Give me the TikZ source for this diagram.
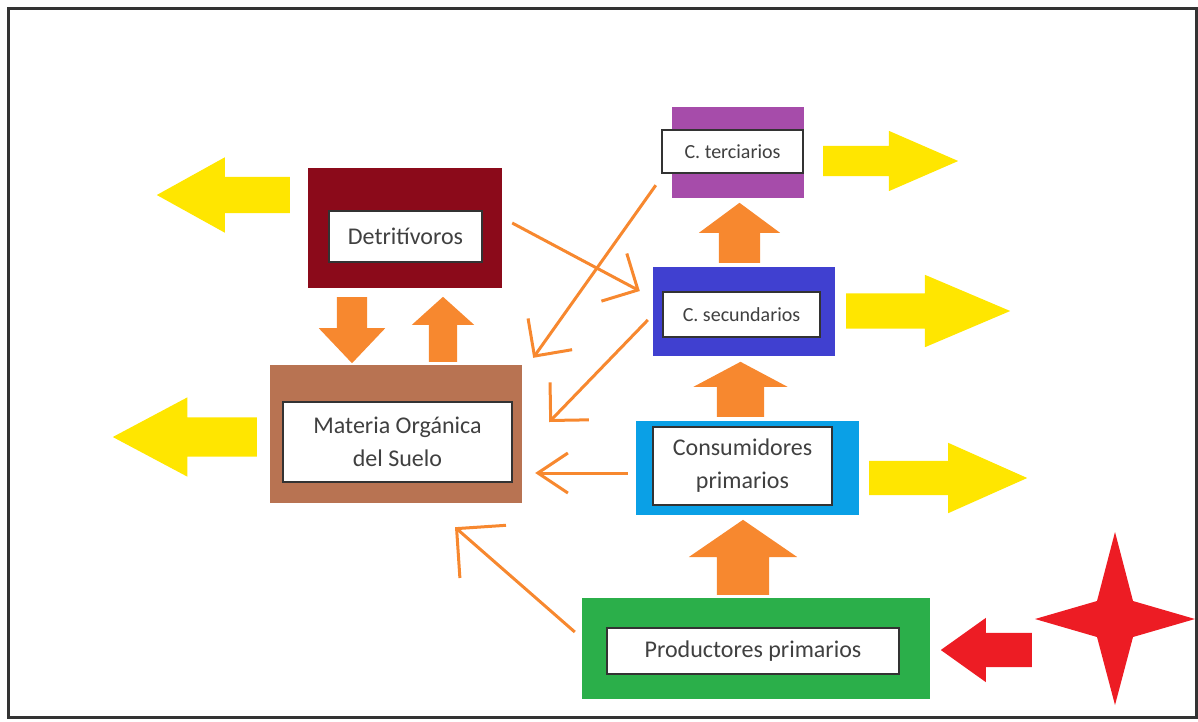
\documentclass[tikz,border=0pt]{standalone}
\usepackage{fontspec}
\setmainfont{Carlito}
\usetikzlibrary{shapes.arrows,arrows.meta}

\definecolor{detred}{HTML}{8B0A1A}
\definecolor{soilbrown}{HTML}{B87352}
\definecolor{tertpurple}{HTML}{A64CAA}
\definecolor{secblue}{HTML}{4040D0}
\definecolor{priblue}{HTML}{0AA0E6}
\definecolor{prodgreen}{HTML}{2BAF4A}
\definecolor{flowyellow}{HTML}{FFE600}
\definecolor{floworange}{HTML}{F7882F}
\definecolor{sunred}{HTML}{ED1C24}
\definecolor{boxline}{HTML}{333333}
\definecolor{txtgray}{HTML}{404040}

\begin{document}
\begin{tikzpicture}[x=1pt, y=-1pt,
                level/.style={inner sep=0pt},
                tag/.style={draw=boxline, line width=2.5pt, fill=white, inner sep=0pt, text=txtgray, align=center, font=\fontsize{24}{33}\selectfont},
                ctag/.style={tag, font=\fontsize{20}{24}\selectfont},
                block/.style={single arrow, inner xsep=0pt, anchor=tail},
                loss/.style={block, fill=flowyellow},
                gain/.style={block, fill=floworange},
                feed/.style={draw=floworange, line width=3pt, -{Straight Barb[length=27pt,width=54pt]}}]
                \useasboundingbox (0,0) rectangle (1198,721);
                \draw[line width=3pt, draw=boxline] (8,8) rectangle (1196,717);
                
                % Levels
                \node[level, fill=detred, minimum width=194pt, minimum height=120pt] (det) at (405,228) {};
                \node[tag, minimum width=153pt, minimum height=51pt] (detl) at (405.5,236.5) {Detritívoros};
                \node[level, fill=soilbrown, minimum width=252pt, minimum height=138pt] (mos) at (396,434) {};
                \node[tag, minimum width=229pt, minimum height=80pt] (mosl) at (397.5,442) {Materia Orgánica\\del Suelo};
                \node[level, fill=tertpurple, minimum width=132pt, minimum height=91pt] (cter) at (738,152.5) {};
                \node[ctag, minimum width=141pt, minimum height=43pt] (cterl) at (732.5,151.5) {C. terciarios};
                \node[level, fill=secblue, minimum width=182pt, minimum height=89pt] (csec) at (744,311.5) {};
                \node[ctag, minimum width=157pt, minimum height=45pt] (csecl) at (741.5,314.5) {C. secundarios};
                \node[level, fill=priblue, minimum width=223pt, minimum height=94pt] (cpri) at (747.5,468) {};
                \node[tag, minimum width=179pt, minimum height=78pt] (cpril) at (742.5,466) {Consumidores\\primarios};
                \node[level, fill=prodgreen, minimum width=348pt, minimum height=101pt] (prod) at (756,648.5) {};
                \node[tag, minimum width=292pt, minimum height=46pt] (prodl) at (753,651) {Productores primarios};
                
                % Block arrows
                \node[gain, rotate=-90, minimum height=66pt, inner ysep=15pt, single arrow head extend=18pt, single arrow tip angle=87] (down) at (352,297) {};
                \node[gain, rotate=90, minimum height=65pt, inner ysep=14pt, single arrow head extend=17pt, single arrow tip angle=96] (up) at (443,362) {};
                \node[gain, rotate=90, minimum height=60pt, inner ysep=20.5pt, single arrow head extend=20pt, single arrow tip angle=107] (sec2ter) at (739.5,263) {};
                \node[gain, rotate=90, minimum height=55pt, inner ysep=23.5pt, single arrow head extend=23.5pt, single arrow tip angle=124] (pri2sec) at (740.5,417) {};
                \node[gain, rotate=90, minimum height=75pt, inner ysep=26pt, single arrow head extend=28pt, single arrow tip angle=111] (prod2pri) at (743,595) {};
                \node[loss, rotate=180, minimum height=133pt, inner ysep=18pt, single arrow head extend=19.5pt, single arrow tip angle=58] (detout) at (290,195) {};
                \node[loss, rotate=180, minimum height=144pt, inner ysep=19.5pt, single arrow head extend=20pt, single arrow tip angle=56] (mosout) at (257,437) {};
                \node[loss, minimum height=135pt, inner ysep=15pt, single arrow head extend=15pt, single arrow tip angle=47] (terout) at (823,161) {};
                \node[loss, minimum height=164pt, inner ysep=17.5pt, single arrow head extend=18.5pt, single arrow tip angle=46] (secout) at (846,311) {};
                \node[loss, minimum height=158pt, inner ysep=17pt, single arrow head extend=18pt, single arrow tip angle=48] (priout) at (869,478) {};
                \node[block, fill=sunred, rotate=180, minimum height=91pt, inner ysep=17pt, single arrow head extend=15pt, single arrow tip angle=71] (light) at (1032,650) {};
                
                % Sun
                \coordinate (sun) at (1115,619);
                \fill[sunred] (sun) ++(0,-87) -- ++(18,69) -- ++(62,18) -- ++(-62,18) -- ++(-18,68) -- ++(-18,-68) -- ++(-62,-18) -- ++(62,-18) -- cycle;
                
                % Feeding lines
                \draw[feed] ([shift={(10,-5)}]det.east) -- ([shift={(-13,-20.5)}]csec.west);
                \draw[feed] ([shift={(-16,-13)}]cter.south west) -- ([shift={(11,-7)}]mos.north east);
                \draw[feed] ([shift={(-5,8.5)}]csec.west) -- ([shift={(27,-12)}]mos.east);
                \draw[feed, -{Straight Barb[length=30pt,width=40pt]}] ([shift={(-8,5)}]cpri.west) -- ([shift={(13,39)}]mos.east);
                \draw[feed, -{Straight Barb[length=35pt,width=70pt]}] ([shift={(-7,-16.5)}]prod.west) -- ([shift={(59,24)}]mos.south);
\end{tikzpicture}
\end{document}
